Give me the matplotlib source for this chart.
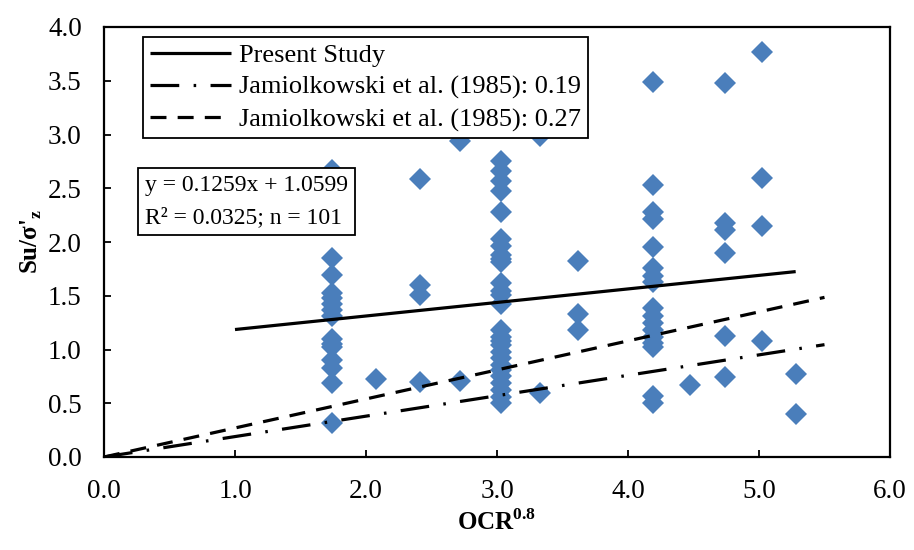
import numpy as np
from matplotlib import pyplot as plt

plt.rcParams['font.family'] = ['Liberation Serif', 'DejaVu Serif']
plt.rcParams['mathtext.fontset'] = 'custom'
plt.rcParams['mathtext.rm'] = 'Liberation Serif'
plt.rcParams['mathtext.bf'] = 'Liberation Serif:bold'

# OCR^0.8 columns and the measured Su/sigma'z values in each
ocr_cols = [1.74, 2.08, 2.41, 2.72, 3.03, 3.33, 3.62, 4.19, 4.47, 4.74, 5.02, 5.28]
su_vals = [
    [2.67, 1.85, 1.69, 1.53, 1.48, 1.42, 1.37, 1.31, 1.10, 1.05, 1.02, 0.90, 0.83, 0.69, 0.32],
    [0.73],
    [2.59, 1.60, 1.51, 0.70],
    [2.94, 0.71],
    [2.75, 2.66, 2.57, 2.47, 2.28, 2.03, 1.96, 1.88, 1.84, 1.81, 1.62, 1.54, 1.51, 1.42,
     1.18, 1.12, 1.08, 1.04, 0.98, 0.92, 0.86, 0.81, 0.75, 0.69, 0.62, 0.56, 0.50],
    [2.99, 0.60],
    [1.82, 1.33, 1.18],
    [3.49, 2.53, 2.28, 2.21, 1.95, 1.76, 1.68, 1.63, 1.39, 1.31, 1.25, 1.18, 1.12, 1.06,
     1.02, 0.57, 0.50],
    [0.67],
    [3.48, 2.18, 2.11, 1.90, 1.13, 0.74],
    [3.77, 2.60, 2.15, 1.08],
    [0.77, 0.40],
]

# fitted / reference lines
fit_slope, fit_icpt = 0.1259, 1.0599
fit_x = [1.0, 5.28]
jam_x = [0.0, 5.5]
jam_low, jam_high = 0.19, 0.27

xs = []
ys = []
for x, col in zip(ocr_cols, su_vals):
    xs.extend([x] * len(col))
    ys.extend(col)

fig = plt.figure(figsize=(9.14, 5.5), dpi=100)
ax = fig.add_axes([104 / 914, 93 / 550, 786 / 914, 430 / 550])

ax.plot(xs, ys, 'D', color='#4A7EBB', ms=11.5, mew=0, zorder=2)

fx = np.array(fit_x)
ax.plot(fx, fit_slope * fx + fit_icpt, color='k', lw=2.3, solid_capstyle='butt',
        label='Present Study', zorder=3)
jx = np.array(jam_x)
ax.plot(jx, jam_low * jx, color='k', lw=2.3, dashes=(9, 4.5, 0.8, 4.5),
        dash_capstyle='butt', label='Jamiolkowski et al. (1985): 0.19', zorder=3)
ax.plot(jx, jam_high * jx, color='k', lw=2.3, dashes=(5, 3.5),
        dash_capstyle='butt', label='Jamiolkowski et al. (1985): 0.27', zorder=3)

ax.set_xlim(0, 6)
ax.set_ylim(0, 4)
ax.set_xticks(np.arange(0, 6.01, 1.0))
ax.set_yticks(np.arange(0, 4.01, 0.5))
ax.xaxis.set_major_formatter(plt.FormatStrFormatter('%.1f'))
ax.yaxis.set_major_formatter(plt.FormatStrFormatter('%.1f'))
ax.tick_params(direction='in', length=5, width=1.3, labelsize=19.5, pad=16)
for s in ax.spines.values():
    s.set_linewidth(1.6)

ax.set_xlabel('OCR$^{\\mathbf{0.8}}$', fontsize=18, fontweight='bold', labelpad=4)
ax.set_ylabel("Su/σ'$_{\\mathbf{z}}$", fontsize=18, fontweight='bold', labelpad=3)

leg = ax.legend(loc='upper left', bbox_to_anchor=(0.0496, 0.977), borderaxespad=0,
                fontsize=19, fancybox=False, edgecolor='k', framealpha=1,
                handlelength=3.1, handletextpad=0.3, labelspacing=0.32,
                borderpad=0.25)
leg.get_frame().set_linewidth(1.3)

ax.text(0.052, 0.655, 'y = 0.1259x + 1.0599\nR² = 0.0325; n = 101',
        transform=ax.transAxes, fontsize=17, va='top', ha='left', linespacing=1.65,
        bbox=dict(boxstyle='square,pad=0.3', fc='white', ec='k', lw=1.3), zorder=4)

fig.savefig('out.png', dpi=100)
